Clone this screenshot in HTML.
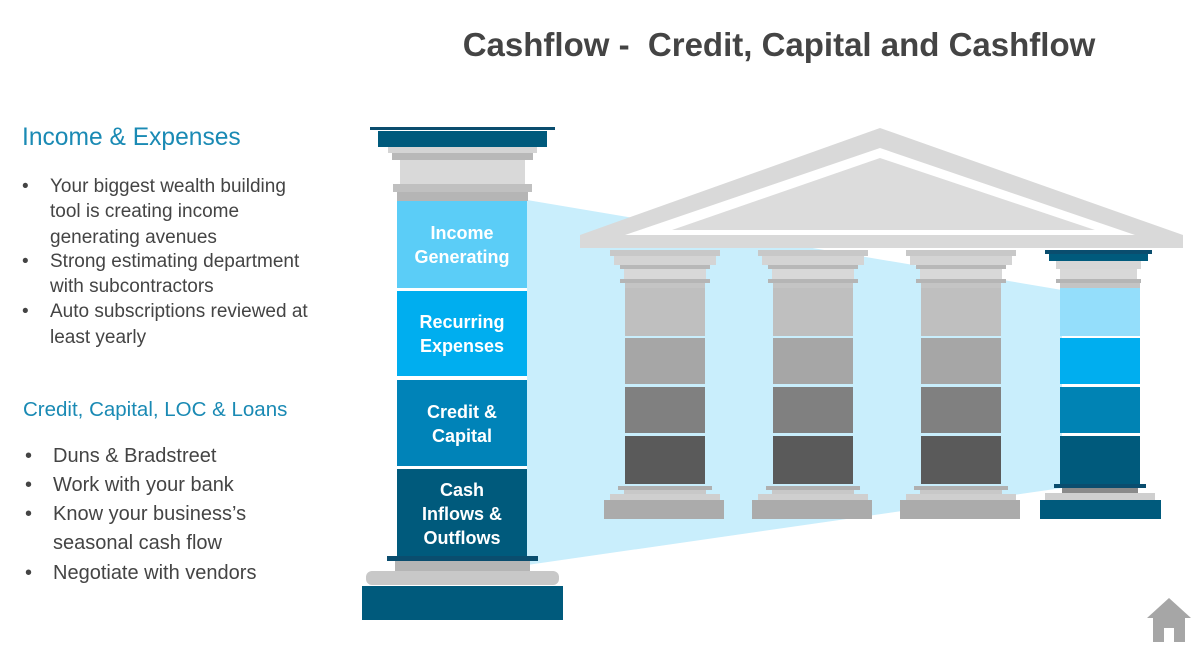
<!DOCTYPE html>
<html><head><meta charset="utf-8"><style>
html,body{margin:0;padding:0;background:#fff;}
body{width:1200px;height:645px;overflow:hidden;position:relative;font-family:"Liberation Sans",sans-serif;}
svg{position:absolute;left:0;top:0;}
</style></head><body>
<svg width="1200" height="645" viewBox="0 0 1200 645" xmlns="http://www.w3.org/2000/svg" font-family="Liberation Sans, sans-serif">
<text x="779" y="56" text-anchor="middle" font-size="33" font-weight="bold" fill="#444">Cashflow -&#160; Credit, Capital and Cashflow</text>

<text x="22" y="145" font-size="24.6" fill="#1a8ab4">Income &amp; Expenses</text>
<g font-size="19" fill="#444">
<text x="22" y="192">•</text><text x="50" y="192">Your biggest wealth building</text>
<text x="50" y="217">tool is creating income</text>
<text x="50" y="243">generating avenues</text>
<text x="22" y="267">•</text><text x="50" y="267">Strong estimating department</text>
<text x="50" y="292">with subcontractors</text>
<text x="22" y="317">•</text><text x="50" y="317">Auto subscriptions reviewed at</text>
<text x="50" y="343">least yearly</text>
</g>
<text x="23" y="416" font-size="20.5" fill="#1a8ab4">Credit, Capital, LOC &amp; Loans</text>
<g font-size="20" fill="#444">
<text x="25" y="462">•</text><text x="53" y="462">Duns &amp; Bradstreet</text>
<text x="25" y="491">•</text><text x="53" y="491">Work with your bank</text>
<text x="25" y="520">•</text><text x="53" y="520">Know your business’s</text>
<text x="53" y="549">seasonal cash flow</text>
<text x="25" y="579">•</text><text x="53" y="579">Negotiate with vendors</text>
</g>

<polygon points="527,200 1062,290 1062,488 527,565" fill="#c9eefc"/>

<polygon points="880,128 1183,235 1183,248 580,248 580,235" fill="#d9d9d9"/>
<polygon points="880,148 1135,235 625,235" fill="#fff"/>
<polygon points="880,158 1095,230 672,230" fill="#dcdcdc"/>

<g id="col">
<rect x="610" y="250" width="110" height="6" fill="#c8c8c8"/>
<rect x="614" y="256" width="102" height="9" fill="#d4d4d4"/>
<rect x="620" y="265" width="90" height="4" fill="#b8b8b8"/>
<rect x="624" y="269" width="82" height="10" fill="#d8d8d8"/>
<rect x="620" y="279" width="90" height="4" fill="#b5b5b5"/>
<rect x="625" y="283" width="80" height="5" fill="#c4c4c4"/>
<rect x="625" y="288" width="80" height="48" fill="#bfbfbf"/>
<rect x="625" y="338" width="80" height="46" fill="#a6a6a6"/>
<rect x="625" y="387" width="80" height="46" fill="#808080"/>
<rect x="625" y="436" width="80" height="48" fill="#5a5a5a"/>
<rect x="618" y="486" width="94" height="4" fill="#b0b0b0"/>
<rect x="624" y="490" width="82" height="4" fill="#c8c8c8"/>
<rect x="610" y="494" width="110" height="6" fill="#cfcfcf"/>
<rect x="604" y="500" width="120" height="19" fill="#ababab"/>
</g>
<use href="#col" x="148"/>
<use href="#col" x="296"/>

<rect x="1045" y="250" width="107" height="4" fill="#0a4d6e"/>
<rect x="1049" y="254" width="99" height="7" fill="#005a7c"/>
<rect x="1056" y="261" width="85" height="8" fill="#d6d6d6"/>
<rect x="1060" y="269" width="77" height="10" fill="#d8d8d8"/>
<rect x="1056" y="279" width="85" height="4" fill="#b5b5b5"/>
<rect x="1060" y="283" width="80" height="5" fill="#c4c4c4"/>
<rect x="1060" y="288" width="80" height="48" fill="#94defb"/>
<rect x="1060" y="338" width="80" height="46" fill="#00aeef"/>
<rect x="1060" y="387" width="80" height="46" fill="#0083b4"/>
<rect x="1060" y="436" width="80" height="48" fill="#005a7c"/>
<rect x="1054" y="484" width="92" height="4" fill="#0a4d6e"/>
<rect x="1062" y="488" width="76" height="5" fill="#8a8a8a"/>
<rect x="1045" y="493" width="110" height="7" fill="#cfcfcf"/>
<rect x="1040" y="500" width="121" height="19" fill="#005a7c"/>

<rect x="370" y="127" width="185" height="3" fill="#0a4d6e"/>
<rect x="378" y="131" width="169" height="16" fill="#005a7c"/>
<rect x="388" y="147" width="149" height="6" fill="#d4d4d4"/>
<rect x="392" y="153" width="141" height="7" fill="#b8b8b8"/>
<rect x="400" y="160" width="125" height="24" fill="#d9d9d9"/>
<rect x="393" y="184" width="139" height="8" fill="#c0c0c0"/>
<rect x="397" y="192" width="131" height="9" fill="#b5b5b5"/>
<rect x="397" y="201" width="130" height="87" fill="#5bcdf7"/>
<rect x="397" y="291" width="130" height="85" fill="#00aeef"/>
<rect x="397" y="380" width="130" height="86" fill="#0083b8"/>
<rect x="397" y="469" width="130" height="88" fill="#005a7c"/>
<rect x="387" y="556" width="151" height="5" fill="#0a4d6e"/>
<rect x="395" y="561" width="135" height="10" fill="#b5b5b5"/>
<rect x="366" y="571" width="193" height="14" rx="6" fill="#c8c8c8"/>
<rect x="362" y="586" width="201" height="34" fill="#005a7c"/>

<g font-size="18" font-weight="bold" fill="#fff" text-anchor="middle">
<text x="462" y="239">Income</text><text x="462" y="263">Generating</text>
<text x="462" y="328">Recurring</text><text x="462" y="352">Expenses</text>
<text x="462" y="418">Credit &amp;</text><text x="462" y="442">Capital</text>
<text x="462" y="496">Cash</text><text x="462" y="520">Inflows &amp;</text><text x="462" y="544">Outflows</text>
</g>

<polygon points="1169,598 1147,618 1153,618 1153,642 1164,642 1164,628 1174,628 1174,642 1185,642 1185,618 1191,618" fill="#a6a6a6"/>
</svg>
</body></html>
